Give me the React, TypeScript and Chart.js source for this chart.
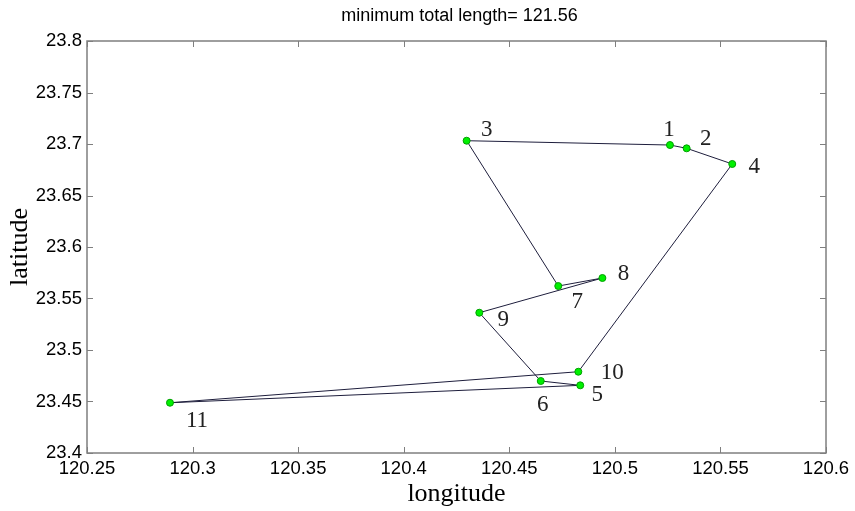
import React, { useEffect, useRef } from "react";
import { Chart, registerables } from "chart.js";

Chart.register(...registerables);

// City coordinates (index 0 = city 1)
const cityLon = [120.5261, 120.534, 120.4298, 120.5556, 120.4836, 120.4649, 120.4732, 120.4941, 120.4358, 120.4827, 120.2893];
const cityLat = [23.699, 23.6958, 23.7032, 23.6806, 23.4657, 23.4699, 23.5621, 23.5699, 23.5362, 23.4789, 23.4488];
const cityLabels = ["1", "2", "3", "4", "5", "6", "7", "8", "9", "10", "11"];
// Tour visiting order (1-based city numbers)
const tourOrder = [1, 2, 4, 10, 11, 5, 6, 9, 8, 7, 3, 1];
const xTickValues = [120.25, 120.3, 120.35, 120.4, 120.45, 120.5, 120.55, 120.6];
const yTickValues = [23.4, 23.45, 23.5, 23.55, 23.6, 23.65, 23.7, 23.75, 23.8];
const titleText = "minimum total length= 121.56";
const xTitle = "longitude";
const yTitle = "latitude";

// label offsets in pixels (style only)
const labelOffsets: [number, number][] = [
  [-1, -15], [19, -9], [20, -11], [22, 3], [17, 10], [2, 24], [19, 16], [21, -4], [24, 7], [34, 1], [27, 18],
];

const fmt = (v: number) => {
  const s = (Math.round(v * 100) / 100).toString();
  return s;
};

const decorPlugin = {
  id: "decor",
  afterDraw(chart: any) {
    const ctx = chart.ctx as CanvasRenderingContext2D;
    const { left, right, top, bottom } = chart.chartArea;
    const xs = chart.scales.x;
    const ys = chart.scales.y;
    ctx.save();
    // box
    ctx.strokeStyle = "#7f7f7f";
    ctx.lineWidth = 1.5;
    ctx.strokeRect(left, top, right - left, bottom - top);
    // inner ticks
    ctx.lineWidth = 1;
    ctx.beginPath();
    const tl = 6;
    xTickValues.forEach((v) => {
      const px = Math.round(xs.getPixelForValue(v)) + 0.5;
      ctx.moveTo(px, bottom);
      ctx.lineTo(px, bottom - tl);
      ctx.moveTo(px, top);
      ctx.lineTo(px, top + tl);
    });
    yTickValues.forEach((v) => {
      const py = Math.round(ys.getPixelForValue(v)) + 0.5;
      ctx.moveTo(left, py);
      ctx.lineTo(left + tl, py);
      ctx.moveTo(right, py);
      ctx.lineTo(right - tl, py);
    });
    ctx.stroke();

    // city number labels
    ctx.fillStyle = "#222";
    ctx.font = "23px 'Liberation Serif', 'Times New Roman', serif";
    ctx.textAlign = "center";
    ctx.textBaseline = "middle";
    cityLabels.forEach((lab, i) => {
      const px = xs.getPixelForValue(cityLon[i]) + labelOffsets[i][0];
      const py = ys.getPixelForValue(cityLat[i]) + labelOffsets[i][1];
      ctx.fillText(lab, px, py);
    });

    // title
    ctx.fillStyle = "#000";
    ctx.font = "18px 'Liberation Sans', Arial, sans-serif";
    ctx.fillText(titleText, (left + right) / 2 + 3, 16);

    // axis titles
    ctx.font = "26px 'Liberation Serif', 'Times New Roman', serif";
    ctx.fillText(xTitle, (left + right) / 2, 494);
    ctx.save();
    ctx.translate(20, (top + bottom) / 2);
    ctx.rotate(-Math.PI / 2);
    ctx.fillText(yTitle, 0, 0);
    ctx.restore();
    ctx.restore();
  },
};

export default function App() {
  const ref = useRef<HTMLCanvasElement | null>(null);
  useEffect(() => {
    if (!ref.current) return;
    const tour = tourOrder.map((c) => ({ x: cityLon[c - 1], y: cityLat[c - 1] }));
    const cities = cityLon.map((x, i) => ({ x, y: cityLat[i] }));
    const chart = new Chart(ref.current, {
      type: "scatter",
      data: {
        datasets: [
          {
            data: cities,
            showLine: false,
            pointRadius: 3.5,
            pointBackgroundColor: "#00f000",
            pointBorderColor: "#00a000",
            pointBorderWidth: 1,
            order: 0,
          },
          {
            data: tour,
            showLine: true,
            borderColor: "#1e1e3c",
            borderWidth: 1,
            pointRadius: 0,
            fill: false,
            tension: 0,
            order: 1,
          },
        ],
      },
      options: {
        responsive: false,
        animation: false,
        events: [],
        layout: { padding: { left: 0, right: 29, top: 41, bottom: 0 } },
        plugins: { legend: { display: false }, tooltip: { enabled: false }, title: { display: false } },
        scales: {
          x: {
            type: "linear",
            min: 120.25,
            max: 120.6,
            afterBuildTicks: (s: any) => {
              s.ticks = xTickValues.map((v) => ({ value: v }));
            },
            afterFit: (s: any) => {
              s.height = 58;
            },
            grid: { display: false, drawTicks: false },
            border: { display: false },
            ticks: {
              padding: 5,
              maxRotation: 0,
              autoSkip: false,
              color: "#000",
              font: { family: "'Liberation Sans', Arial, sans-serif", size: 18.5 },
              callback: (v: any) => fmt(Number(v)),
            },
          },
          y: {
            type: "linear",
            min: 23.4,
            max: 23.8,
            afterBuildTicks: (s: any) => {
              s.ticks = yTickValues.map((v) => ({ value: v }));
            },
            afterFit: (s: any) => {
              s.width = 87;
            },
            grid: { display: false, drawTicks: false },
            border: { display: false },
            ticks: {
              padding: 5,
              autoSkip: false,
              color: "#000",
              font: { family: "'Liberation Sans', Arial, sans-serif", size: 18.5 },
              callback: (v: any) => fmt(Number(v)),
            },
          },
        },
      },
      plugins: [decorPlugin],
    });
    return () => chart.destroy();
  }, []);
  return (
    <div style={{ position: "absolute", left: 0, top: 0, width: 855, height: 511, background: "#fff" }}>
      <canvas ref={ref} width={855} height={511} style={{ width: 855, height: 511 }} />
    </div>
  );
}
